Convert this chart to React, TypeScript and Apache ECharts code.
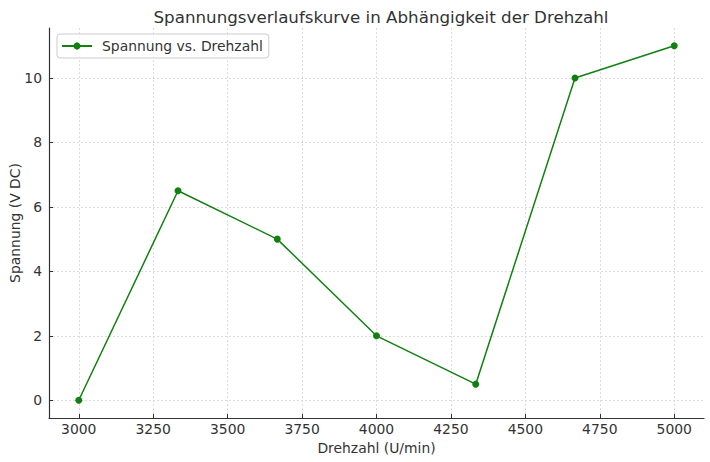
import React, { useEffect, useRef } from "react";
import * as echarts from "echarts";

const drehzahl = [3000, 3333.33, 3666.67, 4000, 4333.33, 4666.67, 5000];
const spannung = [0, 6.5, 5, 2, 0.5, 10, 11];
const xTicks = [3000, 3250, 3500, 3750, 4000, 4250, 4500, 4750, 5000];
const yTicks = [0, 2, 4, 6, 8, 10];

const FONT = "DejaVu Sans";

export default function App() {
  const ref = useRef<HTMLDivElement>(null);
  useEffect(() => {
    const chart = echarts.init(ref.current!, undefined, { renderer: "svg" });
    chart.setOption({
      animation: false,
      backgroundColor: "#ffffff",
      textStyle: { fontFamily: FONT },
      title: {
        text: "Spannungsverlaufskurve in Abhängigkeit der Drehzahl",
        left: 376,
        textAlign: "center",
        top: 3,
        textStyle: { fontFamily: FONT, fontSize: 16.7, fontWeight: "normal", color: "#333333" },
      },
      legend: {
        left: 57,
        top: 34,
        padding: [5, 6, 5, 4],
        itemWidth: 30,
        itemHeight: 9,
        borderColor: "#cccccc",
        borderWidth: 1,
        borderRadius: 3,
        backgroundColor: "rgba(255,255,255,0.8)",
        textStyle: { fontFamily: FONT, fontSize: 13.9, color: "#333333", padding: [0, 0, 0, 5] },
        data: ["Spannung vs. Drehzahl"],
      },
      grid: { left: 49, right: 6, top: 28, bottom: 44, containLabel: false, outerBoundsMode: "none" },
      xAxis: {
        type: "value",
        min: 2900,
        max: 5100,
        name: "Drehzahl (U/min)",
        nameLocation: "middle",
        nameGap: 22,
        nameTextStyle: { fontFamily: FONT, fontSize: 13.9, color: "#333333" },
        axisLine: { show: true, onZero: false, lineStyle: { color: "#333333", width: 1.2 } },
        axisTick: { show: true, inside: true, length: 4, customValues: xTicks, lineStyle: { color: "#333333" } },
        axisLabel: {
          customValues: xTicks,
          formatter: (v: number) => String(v),
          fontFamily: FONT,
          fontSize: 13.9,
          color: "#333333",
          margin: 4,
        },
        splitLine: { show: true, lineStyle: { color: "#d4d4d4", type: [2, 2], width: 0.8 } },
      },
      yAxis: {
        type: "value",
        min: -0.55,
        max: 11.55,
        name: "Spannung (V DC)",
        nameLocation: "middle",
        nameGap: 27,
        nameMoveOverlap: false,
        nameTextStyle: { fontFamily: FONT, fontSize: 13.9, color: "#333333" },
        axisLine: { show: true, onZero: false, lineStyle: { color: "#333333", width: 1.2 } },
        axisTick: { show: true, inside: true, length: 4, customValues: yTicks, lineStyle: { color: "#333333" } },
        axisLabel: {
          customValues: yTicks,
          formatter: (v: number) => String(v),
          fontFamily: FONT,
          fontSize: 13.9,
          color: "#333333",
          margin: 7,
        },
        splitLine: { show: true, lineStyle: { color: "#d4d4d4", type: [2, 2], width: 0.8 } },
      },
      series: [
        {
          name: "Spannung vs. Drehzahl",
          type: "line",
          data: drehzahl.map((x, i) => [x, spannung[i]]),
          symbol: "circle",
          symbolSize: 7,
          itemStyle: { color: "#118011" },
          lineStyle: { color: "#118011", width: 1.5 },
        },
      ],
    });
    return () => chart.dispose();
  }, []);
  return <div ref={ref} style={{ width: 710, height: 462, position: "absolute", left: 0, top: 0 }} />;
}
